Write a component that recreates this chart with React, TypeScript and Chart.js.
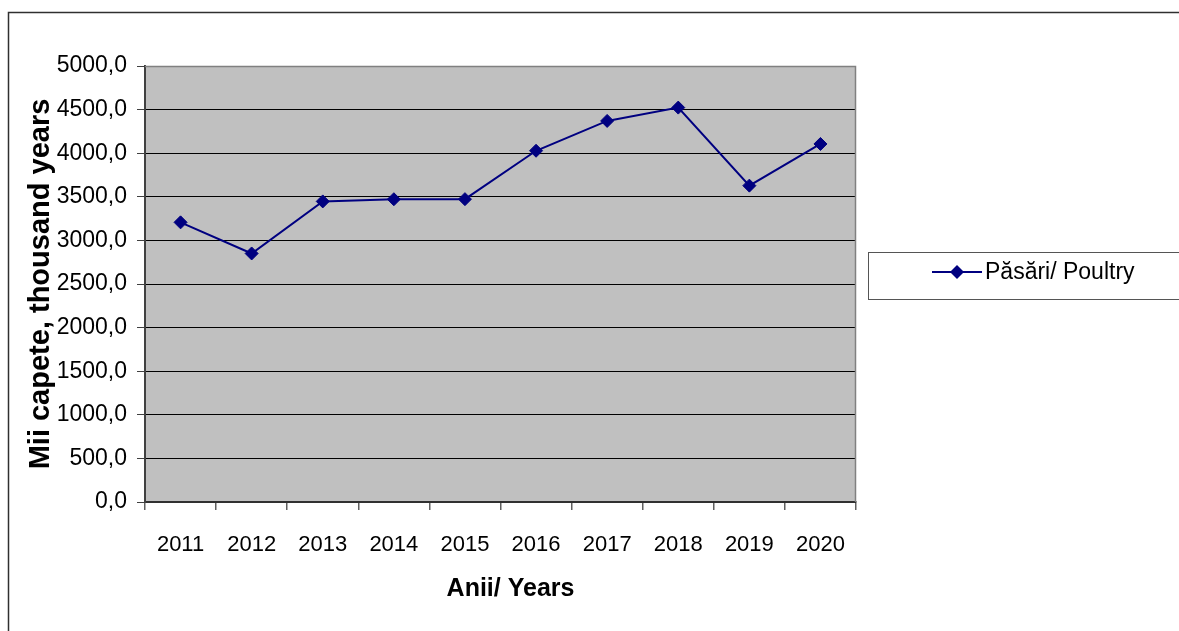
import React, { useEffect, useRef } from "react";
import { Chart, registerables } from "chart.js";

Chart.register(...registerables);

const years = ["2011", "2012", "2013", "2014", "2015", "2016", "2017", "2018", "2019", "2020"];
const poultry = [3207, 2850, 3447, 3472, 3473, 4028, 4370, 4523, 3628, 4106];
const seriesLabel = "Păsări/ Poultry";
const yTitle = "Mii capete, thousand years";
const xTitle = "Anii/ Years";

const SANS = "'Liberation Sans', Arial, sans-serif";
const NAVY = "#000080";

const framePlugin = {
  id: "framePlugin",
  beforeDraw(chart: any) {
    const { ctx, chartArea } = chart;
    ctx.save();
    ctx.fillStyle = "#ffffff";
    ctx.fillRect(0, 0, chart.width, chart.height);
    ctx.fillStyle = "#C0C0C0";
    ctx.fillRect(chartArea.left, chartArea.top, chartArea.right - chartArea.left, chartArea.bottom - chartArea.top);
    ctx.strokeStyle = "#303030";
    ctx.lineWidth = 1.5;
    ctx.strokeRect(8.5, 12.5, 1400, 800);
    ctx.restore();
  },
  afterDraw(chart: any) {
    const { ctx, chartArea } = chart;
    ctx.save();
    ctx.strokeStyle = "#808080";
    ctx.lineWidth = 1.5;
    ctx.beginPath();
    ctx.moveTo(chartArea.left, chartArea.top + 0.5);
    ctx.lineTo(chartArea.right - 0.5, chartArea.top + 0.5);
    ctx.lineTo(chartArea.right - 0.5, chartArea.bottom);
    ctx.stroke();
    // x axis title (slightly right of plot centre, as in the reference)
    ctx.fillStyle = "#000000";
    ctx.font = `bold 25px ${SANS}`;
    ctx.textAlign = "center";
    ctx.textBaseline = "middle";
    ctx.fillText(xTitle, (chartArea.left + chartArea.right) / 2 + 10, 589);
    // legend
    ctx.strokeStyle = "#555555";
    ctx.lineWidth = 1;
    ctx.strokeRect(868.5, 252.5, 400, 47);
    const cy = 272;
    ctx.strokeStyle = NAVY;
    ctx.lineWidth = 2;
    ctx.beginPath();
    ctx.moveTo(932, cy);
    ctx.lineTo(982, cy);
    ctx.stroke();
    ctx.fillStyle = NAVY;
    ctx.beginPath();
    ctx.moveTo(957 - 7, cy);
    ctx.lineTo(957, cy - 7);
    ctx.lineTo(957 + 7, cy);
    ctx.lineTo(957, cy + 7);
    ctx.closePath();
    ctx.fill();
    ctx.fillStyle = "#000000";
    ctx.font = `23px ${SANS}`;
    ctx.textBaseline = "middle";
    ctx.textAlign = "left";
    ctx.fillText(seriesLabel, 985, cy + 1);
    ctx.restore();
  },
};

export default function App() {
  const ref = useRef<HTMLCanvasElement>(null);
  useEffect(() => {
    if (!ref.current) return;
    const chart = new Chart(ref.current, {
      type: "line",
      data: {
        labels: years,
        datasets: [
          {
            label: seriesLabel,
            data: poultry,
            borderColor: NAVY,
            backgroundColor: NAVY,
            borderWidth: 2,
            pointStyle: "rectRot",
            pointRadius: 6.5,
            pointBorderWidth: 1,
            pointBackgroundColor: NAVY,
            pointBorderColor: NAVY,
            tension: 0,
          },
        ],
      },
      options: {
        animation: false,
        responsive: false,
        maintainAspectRatio: false,
        layout: { padding: { left: 0, top: 66, right: 323, bottom: 0 } },
        plugins: { legend: { display: false }, tooltip: { enabled: false } },
        scales: {
          x: {
            offset: true,
            afterFit: (s: any) => { s.height = 129; },
            grid: {
              offset: true,
              drawOnChartArea: false,
              drawTicks: true,
              tickLength: 8,
              color: "#606060",
              lineWidth: 1.5,
            },
            border: { display: true, color: "#303030", width: 2 },
            ticks: {
              color: "#000000",
              font: { family: SANS, size: 22 },
              padding: 22,
              maxRotation: 0,
              autoSkip: false,
            },
            title: { display: false },
          },
          y: {
            min: 0,
            max: 5000,
            afterFit: (s: any) => { s.width = 145; },
            grid: {
              color: "#000000",
              lineWidth: 1,
              drawTicks: true,
              tickLength: 8,
              tickColor: "#404040",
            },
            border: { display: true, color: "#404040", width: 2 },
            ticks: {
              stepSize: 500,
              color: "#000000",
              font: { family: SANS, size: 23 },
              padding: 10,
              callback: (v: any) => Number(v).toFixed(1).replace(".", ","),
            },
            title: {
              display: true,
              text: yTitle,
              color: "#000000",
              font: { family: SANS, size: 29, weight: "bold" },
              padding: { top: 24, bottom: 0 },
            },
          },
        },
      },
      plugins: [framePlugin],
    });
    return () => chart.destroy();
  }, []);
  return (
    <div style={{ position: "fixed", left: 0, top: 0, width: 1179, height: 631, background: "#fff" }}>
      <canvas ref={ref} width={1179} height={631} style={{ width: 1179, height: 631, display: "block" }} />
    </div>
  );
}
